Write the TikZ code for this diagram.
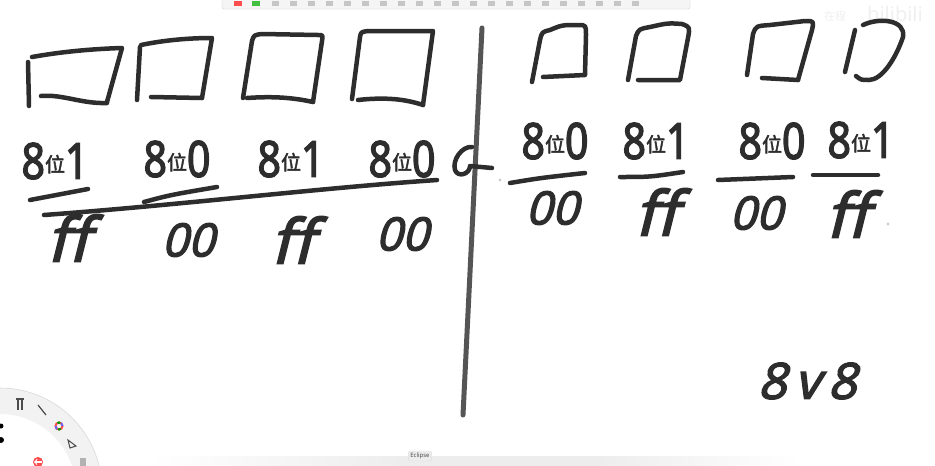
\documentclass[tikz,border=0pt]{standalone}
\usepackage{fontspec}
\setmainfont{Noto Sans}
\newfontfamily\hwfont{Noto Sans}[FakeBold=2.5,FakeStretch=0.82]
\newfontfamily\hwslant{Noto Sans}[FakeBold=2.5,FakeSlant=0.25]
\newfontfamily\cjkfont{Noto Sans CJK SC}[FakeBold=2]
\newfontfamily\cjkplain{Noto Sans CJK SC}
\newcommand\hwwei{{\cjkfont\fontsize{20}{20}\selectfont\raisebox{7pt}{位}}}
\definecolor{ink}{RGB}{45,45,45}
\definecolor{divider}{RGB}{85,85,85}
\begin{document}
\begin{tikzpicture}[x=1pt,y=-1pt,
  stroke/.style={draw=ink,line width=4.5pt,line cap=round,line join=round},
  toplbl/.style={text=ink,inner sep=0pt,font=\hwfont\fontsize{50}{50}\selectfont},
  hexlbl/.style={text=ink,inner sep=0pt,font=\hwslant\fontsize{62}{62}\selectfont},
  zerolbl/.style={text=ink,inner sep=0pt,font=\hwslant\fontsize{46}{46}\selectfont},
  uiband/.style={fill=gray!10}]
\useasboundingbox (0,0) rectangle (935,466);
\clip (0,0) rectangle (935,466);
\fill[white] (0,0) rectangle (935,466);

% ---------- UI: toolbar, dock, radial menu, watermark ----------
\draw[fill=gray!8,draw=gray!35,rounded corners=2pt] (222,-4) rectangle (690,9);
\foreach \i in {0,...,20}{\fill[gray!45] (272+\i*18,1) rectangle ++(7,5);}
\fill[red!70] (234,1) rectangle ++(8,5);
\fill[green!50!gray] (252,1) rectangle ++(8,5);
\shade[left color=white,right color=gray!14] (150,456) rectangle (400,466);
\fill[gray!14] (400,456) rectangle (600,466);
\shade[left color=gray!14,right color=white] (600,456) rectangle (800,466);
\node[fill=gray!14,draw=gray!25,rounded corners=2pt,inner sep=2pt,text=gray!60!black,
      font=\fontsize{6}{6}\selectfont] (tip) at (420,456) {Eclipse};
\fill[uiband,even odd rule] (0,490) circle (102pt) (0,490) circle (76pt);
\draw[gray!30,line width=0.6pt] (0,490) circle (102pt);
\draw[line width=2pt,red!70] (59,426) circle (3.5pt);
\draw[line width=2pt,blue!60,dash pattern=on 3pt off 8pt] (59,426) circle (3.5pt);
\draw[line width=2pt,green!60!black,dash pattern=on 3pt off 8pt,dash phase=7pt] (59,426) circle (3.5pt);
\draw[gray!60!black,line width=1.2pt] (18,400) -- (18,410) (22,400) -- (22,410) (16,399)--(24,399);
\draw[gray!60!black,line width=1.2pt] (38,405) -- (46,415);
\draw[gray!60!black,line width=1pt] (68,440) -- (76,446) -- (70,448) -- cycle;
\fill[red!70] (38,462) circle (5pt);
\draw[white,line width=1.2pt,->] (42,462) -- (34,462);
\fill[gray!60] (80,458) rectangle ++(6,8);
\fill[black] (1,440) circle (3pt);
\fill[black] (1,426) circle (2.5pt);
\node[text=gray!12,font=\bfseries\fontsize{20}{20}\selectfont] (wm) at (895,14) {bilibili};
\node[text=gray!12,font=\cjkplain\fontsize{11}{11}\selectfont] (wm2) at (835,16) {在程};

% ---------- divider ----------
\coordinate (dtop) at (482,28);
\coordinate (dbot) at (463,415);
\draw[draw=divider,line width=5pt,line cap=round] (dtop) -- (dbot);

% ---------- left boxes ----------
\draw[stroke] (28,62) -- (29,106);
\draw[stroke] (32,57) .. controls (60,52) and (90,49) .. (122,48) -- (107,102);
\draw[stroke] (41,96) .. controls (62,94) and (82,104) .. (107,103);

\draw[stroke] (140,47) -- (137,100);
\draw[stroke] (141,45) .. controls (165,40) and (190,38) .. (212,38) -- (202,98);
\draw[stroke] (151,97) -- (202,98);

\draw[stroke] (243,98) -- (252,41) .. controls (254,35) .. (262,34) -- (318,35)
   .. controls (323,35) .. (322,41) -- (313,102);
\draw[stroke] (247,98) .. controls (275,96) and (295,98) .. (313,102);

\draw[stroke] (352,99) -- (360,37) .. controls (361,32) .. (368,31) -- (433,31) -- (423,105);
\draw[stroke] (358,100) .. controls (385,97) and (405,99) .. (423,105);

% ---------- right boxes ----------
\draw[stroke] (532,82) -- (540,40) .. controls (542,32) .. (550,30)
   .. controls (562,25) .. (578,25) .. controls (586,25) .. (586,35) -- (585,75) -- (543,77);
\draw[stroke] (628,80) -- (636,36) .. controls (639,29) .. (650,27)
   .. controls (668,23) .. (682,24) .. controls (690,27) .. (688,38) -- (680,80) -- (638,80);
\draw[stroke] (747,75) -- (753,34) .. controls (756,26) .. (770,25) -- (805,21)
   .. controls (814,21) .. (812,30) -- (798,80);
\draw[stroke] (762,78) -- (798,80);
\draw[stroke] (845,72) -- (855,30);
\draw[stroke] (863,25) .. controls (880,17) and (906,20) .. (903,37)
   .. controls (896,58) and (882,80) .. (869,80) .. controls (861,80) .. (856,76);

% ---------- top labels ----------
\node[toplbl] (l1) at (55,161) {8\hwwei 1};
\node[toplbl] (l2) at (177,159) {8\hwwei 0};
\node[toplbl] (l3) at (291,159) {8\hwwei 1};
\node[toplbl] (l4) at (402,159) {8\hwwei 0};
\node[toplbl] (r1) at (555,141) {8\hwwei 0};
\node[toplbl] (r2) at (656,141) {8\hwwei 1};
\node[toplbl] (r3) at (772,141) {8\hwwei 0};
\node[toplbl] (r4) at (861,140) {8\hwwei 1};

% glyph at divider
\draw[stroke] (472,147) .. controls (462,146) and (452,160) .. (455,170)
   .. controls (458,178) and (470,174) .. (470,166) -- (492,168);

% ---------- fraction lines ----------
\draw[stroke] (30,200) -- (88,189);
\draw[stroke] (144,202) .. controls (170,195) .. (217,187);
\draw[stroke] (44,215) .. controls (180,205) and (320,188) .. (437,180);
\draw[stroke] (510,183) .. controls (540,178) .. (585,173);
\draw[stroke] (620,177) .. controls (650,177) .. (683,172);
\draw[stroke] (718,180) -- (793,177);
\draw[stroke] (813,175) -- (878,175);
\fill[gray!40] (500,180) circle (1.6pt);
\fill[gray!40] (888,224) circle (1.6pt);

% ---------- bottom values ----------
\node[hexlbl] (f1) at (68,238) {ff};
\node[zerolbl] (z1) at (188,240) {00};
\node[hexlbl] (f2) at (292,240) {ff};
\node[zerolbl] (z2) at (402,234) {00};
\node[zerolbl] (z3) at (552,208) {00};
\node[hexlbl] (f3) at (656,212) {ff};
\node[zerolbl] (z4) at (756,213) {00};
\node[hexlbl] (f4) at (847,214) {ff};

% ---------- bottom right ----------
\node[text=ink,inner sep=0pt,font=\hwslant\fontsize{50}{50}\selectfont] (vv) at (807,381) {8\hspace{8pt}v\hspace{8pt}8};
\end{tikzpicture}
\end{document}
